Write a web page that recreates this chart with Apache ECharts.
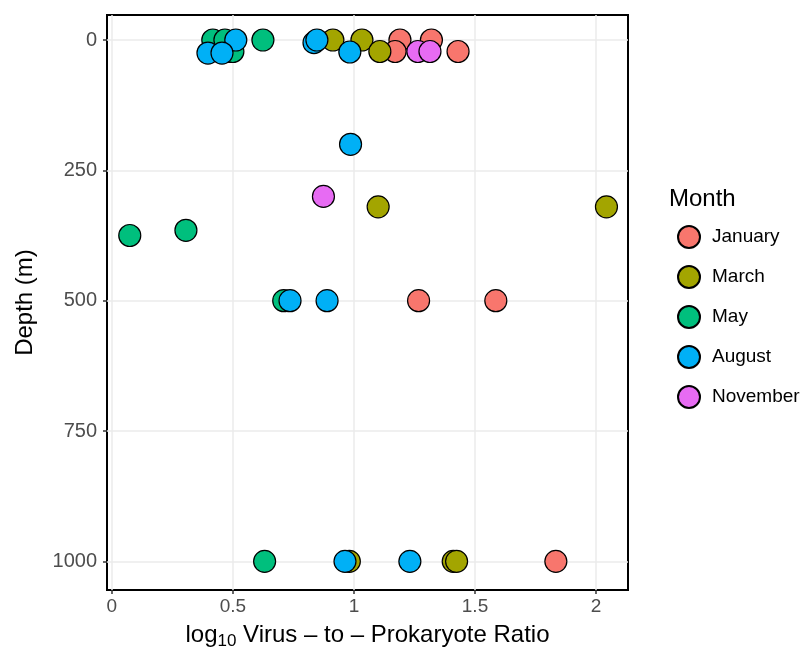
<!DOCTYPE html>
<html><head><meta charset="utf-8">
<script src="https://cdn.jsdelivr.net/npm/echarts@6/dist/echarts.min.js"></script>
<style>html,body{margin:0;padding:0;background:#fff}#c{width:810px;height:650px}</style>
</head><body><div id="c"></div>
<script>
const months = ['January','March','May','August','November'];
const colors = ['#F8766D','#A3A500','#00BF7D','#00B0F6','#E76BF3'];
const xTicks = [0, 0.5, 1, 1.5, 2];
const yTicks = [0, 250, 500, 750, 1000];
// [log10 VPR, depth m]
const january = [[1.19,0],[1.32,0],[1.17,22],[1.43,22],[1.267,500],[1.586,500],[1.834,1000]];
const march = [[0.913,0],[1.033,0],[1.107,22],[1.10,320],[2.043,320],[0.981,1000],[1.41,1000],[1.424,1000]];
const may = [[0.417,0],[0.467,0],[0.49,22],[0.50,22],[0.624,0],[0.074,375],[0.306,365],[0.71,500],[0.631,1000]];
const august = [[0.512,0],[0.397,25],[0.455,25],[0.835,5],[0.847,0],[0.983,23],[0.986,200],[0.736,500],[0.889,500],[0.963,1000],[1.231,1000]];
const november = [[1.264,22],[1.314,22],[0.874,300]];
const seriesData = [january, march, may, august, november];

const chart = echarts.init(document.getElementById('c'), null, {renderer:'canvas'});
const font = 'Liberation Sans, Arial, sans-serif';
chart.setOption({
  animation: false,
  backgroundColor: '#fff',
  title: {text: 'Month', left: 669, top: 187, padding: 0, textStyle: {fontFamily: font, fontSize: 24, fontWeight: 'normal', color: '#000'}},
  legend: {
    orient: 'vertical', left: 677, top: 225, padding: 0, itemWidth: 36, itemHeight: 22, itemGap: 16, icon: 'circle',
    textStyle: {fontFamily: font, fontSize: 19, color: '#000'}, data: months
  },
  grid: {left: 107, right: 182, top: 15, bottom: 60, outerBoundsMode: 'none', containLabel: false, show: true, borderColor: '#000', borderWidth: 2, backgroundColor: 'transparent'},
  xAxis: {
    type: 'value', min: -0.02, max: 2.132,
    name: '{a|log}{s|10}{a| Virus – to – Prokaryote Ratio}', nameLocation: 'middle', nameGap: 31,
    nameTextStyle: {rich: {a: {fontFamily: font, fontSize: 24, color: '#000'}, s: {fontFamily: font, fontSize: 17, color: '#000', padding: [12,0,0,0]}}},
    axisLine: {show: false, onZero: false},
    axisTick: {show: true, length: 4, lineStyle: {color: '#333', width: 1.5}, customValues: xTicks},
    axisLabel: {fontFamily: font, fontSize: 19, color: '#4D4D4D', margin: 7, customValues: xTicks},
    splitLine: {show: true, lineStyle: {color: '#EBEBEB', width: 1.5}}
  },
  yAxis: {
    type: 'value', min: -48, max: 1055, inverse: true,
    name: 'Depth (m)', nameLocation: 'middle', nameGap: 70, nameRotate: 90,
    nameTextStyle: {fontFamily: font, fontSize: 24, color: '#000'},
    axisLine: {show: false, onZero: false},
    axisTick: {show: true, length: 4, lineStyle: {color: '#333', width: 1.5}, customValues: yTicks},
    axisLabel: {fontFamily: font, fontSize: 20, color: '#4D4D4D', margin: 10, customValues: yTicks, formatter: v => String(v)},
    splitLine: {show: true, lineStyle: {color: '#EBEBEB', width: 1.5}}
  },
  series: months.map((m, i) => ({
    name: m, type: 'scatter', symbol: 'circle', symbolSize: 22,
    itemStyle: {color: colors[i], borderColor: '#000', borderWidth: 1.2, opacity: 1},
    emphasis: {disabled: true},
    data: seriesData[i]
  }))
});
</script></body></html>
